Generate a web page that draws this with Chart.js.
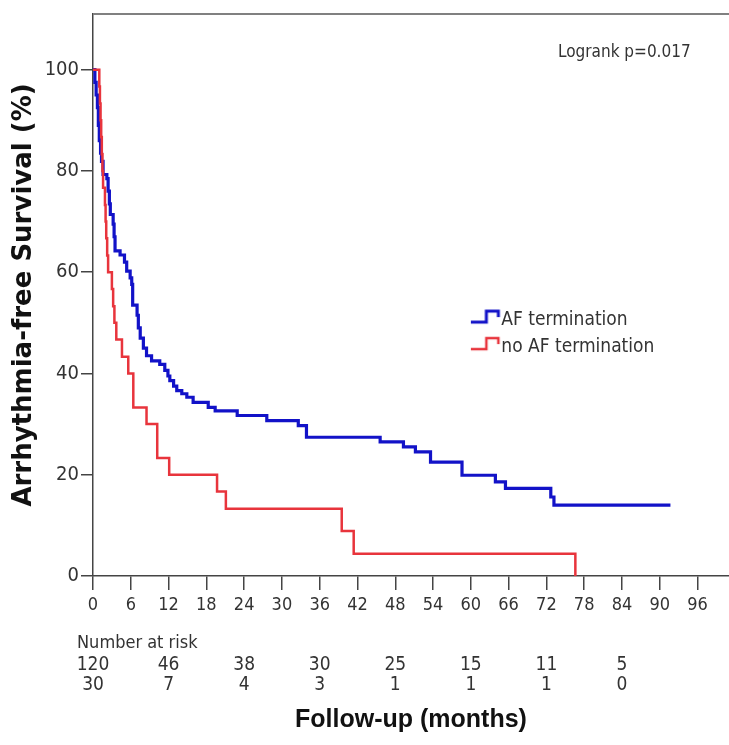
<!DOCTYPE html>
<html>
<head>
<meta charset="utf-8">
<script src="https://cdn.jsdelivr.net/npm/chart.js@4.4.1/dist/chart.umd.min.js"></script>
<style>
  html, body { margin: 0; padding: 0; background: #fff; }
</style>
</head>
<body>
<canvas id="km" width="729" height="745"></canvas>
<script>
// axis ticks
const xTicks = [0, 6, 12, 18, 24, 30, 36, 42, 48, 54, 60, 66, 72, 78, 84, 90, 96];
const yTicks = [0, 20, 40, 60, 80, 100];

// number at risk table
const riskMonths = [0, 12, 24, 36, 48, 60, 72, 84];
const riskAF = [120, 46, 38, 30, 25, 15, 11, 5];
const riskNoAF = [30, 7, 4, 3, 1, 1, 1, 0];

// Kaplan-Meier steps (month, survival % after the step)
const afMonths = [0, 0.3, 0.5, 0.7, 0.85, 1.0, 1.2, 1.35, 1.6, 2.2, 2.4, 2.6, 2.75, 3.2, 3.35, 3.5, 4.3, 5.0, 5.35, 5.9, 6.15,
    6.3, 7.0, 7.2, 7.5, 8.0, 8.5, 9.3, 10.6, 11.4, 11.9, 12.2, 12.8, 13.3, 14.1, 14.9, 15.9, 18.3, 19.4, 22.9,
    27.6, 32.6, 33.9, 45.6, 49.3, 51.2, 53.6, 58.6, 63.9, 65.5, 72.7, 73.2, 91.7];
const afSurvival = [100, 97.5, 95, 92.5, 89, 86, 83.5, 81.9, 79.3, 78.5, 76, 73.5, 71.4, 69.5, 67, 64.2, 63.4, 62, 60.2, 58.9, 57.6,
    53.5, 51.5, 49, 47, 45, 43.5, 42.5, 41.8, 40.6, 39.5, 38.6, 37.5, 36.6, 36, 35.3, 34.3, 33.3, 32.6, 31.7,
    30.7, 29.7, 27.4, 26.5, 25.5, 24.5, 22.5, 19.9, 18.6, 17.3, 15.6, 14, 14];

const noAfMonths = [0, 1.0, 1.1, 1.2, 1.3, 1.4, 1.5, 1.6, 1.9, 2.0, 2.1, 2.25, 2.4, 3.0, 3.2, 3.4, 3.7, 4.6, 5.6, 6.4,
    8.5, 10.2, 12.1, 19.7, 21.1, 39.5, 41.4, 76.6];
const noAfSurvival = [100, 96.7, 93.3, 90, 86.7, 83.3, 80, 76.7, 73.3, 70, 66.7, 63.3, 60, 56.7, 53.3, 50, 46.7, 43.3, 40, 33.3,
    30, 23.3, 20, 16.7, 13.3, 8.9, 4.4, 0];

const LOGRANK = 'Logrank p=0.017';

const NARROW = "'Liberation Sans Narrow', 'Arial Narrow', 'DejaVu Sans Condensed', sans-serif";
const INK = '#333';
const AXIS = '#444';
const BLUE = '#1212c8';
const RED = '#e8343c';

// little step glyph used as legend symbol
function stepGlyph(color, width) {
    const c = document.createElement('canvas');
    c.width = 32;
    c.height = 24;
    const g = c.getContext('2d');
    g.strokeStyle = color;
    g.lineWidth = width;
    g.beginPath();
    g.moveTo(1, 14);
    g.lineTo(17, 14);
    g.lineTo(17, 3);
    g.lineTo(29, 3);
    g.lineTo(29, 9);
    g.stroke();
    return c;
}

const toPoints = (xs, ys) => xs.map((x, i) => ({ x, y: ys[i] }));

const extras = {
    id: 'extras',
    afterLayout(chart) {
        // park the legend inside the plot, right of centre
        const lg = chart.legend;
        const w = lg.width, h = lg.height;
        lg.left = chart.scales.x.getPixelForValue(60);
        lg.top = chart.scales.y.getPixelForValue(54);
        lg.right = lg.left + w;
        lg.bottom = lg.top + h;
    },
    afterDraw(chart) {
        const { ctx, chartArea } = chart;
        ctx.save();
        ctx.strokeStyle = '#808080';
        ctx.lineWidth = 2;
        ctx.beginPath();
        ctx.moveTo(chartArea.left, chartArea.top);
        ctx.lineTo(chartArea.right, chartArea.top);
        ctx.stroke();

        ctx.fillStyle = INK;
        ctx.textBaseline = 'middle';
        ctx.textAlign = 'left';
        ctx.font = '17px ' + NARROW;
        ctx.fillText(LOGRANK, 558, 53);
        ctx.font = '18px ' + NARROW;
        ctx.fillText('Number at risk', chartArea.left - 16, chart.scales.risk.top + 24);
        ctx.restore();
    },
};

new Chart(document.getElementById('km'), {
    type: 'line',
    data: {
        datasets: [
            {
                label: 'AF termination',
                data: toPoints(afMonths, afSurvival),
                borderColor: BLUE,
                borderWidth: 3.2,
                stepped: true,
                pointRadius: 0,
                pointStyle: stepGlyph(BLUE, 3),
                fill: false,
                order: 1,
            },
            {
                label: 'no AF termination',
                data: toPoints(noAfMonths, noAfSurvival),
                borderColor: RED,
                borderWidth: 2.5,
                stepped: true,
                pointRadius: 0,
                pointStyle: stepGlyph(RED, 2.5),
                fill: false,
                order: 0,
            },
        ],
    },
    options: {
        responsive: false,
        animation: false,
        layout: { padding: { top: 12, left: 0, right: 0, bottom: 0 } },
        scales: {
            x: {
                type: 'linear',
                min: 0,
                max: 101,
                weight: 0,
                afterBuildTicks: (s) => { s.ticks = xTicks.map(v => ({ value: v })); },
                afterFit: (s) => { s.height = 43; },
                grid: { drawOnChartArea: false, drawTicks: true, tickLength: 14, color: AXIS, lineWidth: 1.5 },
                border: { display: true, color: AXIS, width: 1.5 },
                ticks: { autoSkip: false, maxRotation: 0, padding: 5, color: INK, font: { family: NARROW, size: 18 } },
            },
            risk: {
                type: 'linear',
                position: 'bottom',
                min: 0,
                max: 101,
                weight: 1,
                afterBuildTicks: (s) => { s.ticks = riskMonths.map(v => ({ value: v })); },
                afterFit: (s) => { s.height = 126; },
                grid: { display: false, drawTicks: false },
                border: { display: false },
                ticks: {
                    autoSkip: false,
                    maxRotation: 0,
                    padding: 36,
                    color: INK,
                    font: { family: NARROW, size: 19, lineHeight: 1.05 },
                    callback: (v, i) => [String(riskAF[i]), String(riskNoAF[i])],
                },
                title: {
                    display: true,
                    text: 'Follow-up (months)',
                    color: '#111',
                    font: { family: "'Liberation Sans', Arial, sans-serif", size: 25, weight: 'bold' },
                    padding: { top: 0, bottom: 10 },
                },
            },
            y: {
                min: 0,
                max: 111,
                afterBuildTicks: (s) => { s.ticks = yTicks.map(v => ({ value: v })); },
                afterFit: (s) => { s.width = 93; },
                grid: { drawOnChartArea: false, drawTicks: true, tickLength: 12, color: AXIS, lineWidth: 1.5 },
                border: { display: true, color: AXIS, width: 1.5 },
                ticks: { padding: 2, color: INK, font: { family: NARROW, size: 20 } },
                title: {
                    display: true,
                    text: 'Arrhythmia-free Survival (%)',
                    color: '#111',
                    font: { family: "'DejaVu Sans', sans-serif", size: 26, weight: 'bold' },
                    padding: { top: 9, bottom: 0 },
                },
            },
        },
        plugins: {
            legend: {
                position: 'chartArea',
                align: 'start',
                labels: {
                    usePointStyle: true,
                    pointStyleWidth: 13,
                    padding: 8,
                    color: INK,
                    font: { family: NARROW, size: 19 },
                    sort: (a, b) => a.datasetIndex - b.datasetIndex,
                },
            },
            tooltip: { enabled: false },
        },
    },
    plugins: [extras],
});
</script>
</body>
</html>
